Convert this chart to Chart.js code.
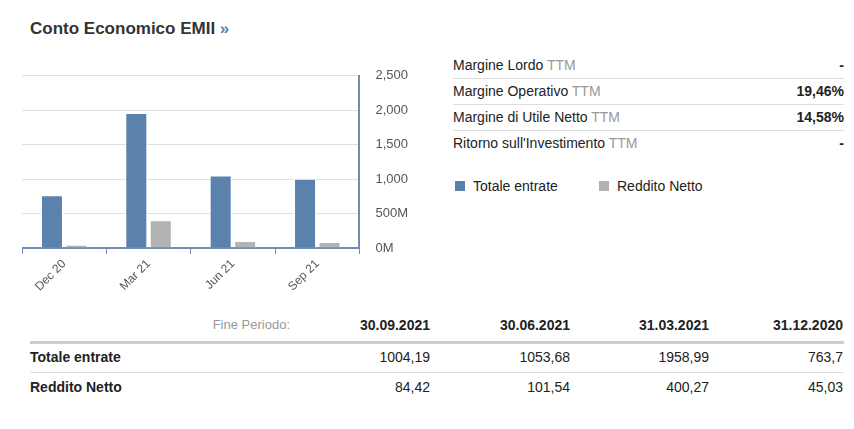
<!DOCTYPE html>
<html><head><meta charset="utf-8">
<script src="https://cdn.jsdelivr.net/npm/chart.js@4"></script>
<style>
body{margin:0;width:854px;height:429px;background:#fff;font-family:"Liberation Sans",Arial,sans-serif;color:#222;position:relative;overflow:hidden}
.title{position:absolute;left:30px;top:19px;font-size:17px;font-weight:bold;color:#333}
.title span{color:#5b82ad}
#wrap{position:absolute;left:22px;top:52px;width:402px;height:245px}
.kv{position:absolute;left:453px;width:391px;font-size:14px;height:26px;line-height:26px;border-bottom:1px solid #ddd}
.kv .t{color:#999}.kv b{position:absolute;right:0}
.leg{position:absolute;top:178px;font-size:14px}
.leg i{display:inline-block;width:10px;height:10px;margin-right:8px;vertical-align:0px}
.row{position:absolute;left:30px;width:814px;font-size:14px}
.row div{position:absolute;text-align:right;width:150px}
</style></head><body>
<div class="title">Conto Economico EMII <span>»</span></div>
<div id="wrap"><canvas id="c"></canvas></div>
<div class="kv" style="top:52px">Margine Lordo <span class="t">TTM</span><b>-</b></div>
<div class="kv" style="top:78px">Margine Operativo <span class="t">TTM</span><b>19,46%</b></div>
<div class="kv" style="top:104px">Margine di Utile Netto <span class="t">TTM</span><b>14,58%</b></div>
<div class="kv" style="top:130px;border-bottom:none">Ritorno sull'Investimento <span class="t">TTM</span><b>-</b></div>
<div class="leg" style="left:455px"><i style="background:#5b82ad"></i>Totale entrate</div>
<div class="leg" style="left:599px"><i style="background:#b3b3b3"></i>Reddito Netto</div>
<div id="tbl"></div>
<script>
const categories=["Dec 20","Mar 21","Jun 21","Sep 21"];
const revenue=[763.7,1958.99,1053.68,1004.19];
const netIncome=[45.03,400.27,101.54,84.42];
const yTicks=[0,500,1000,1500,2000,2500];
const periods=["30.09.2021","30.06.2021","31.03.2021","31.12.2020"];
const revText=["1004,19","1053,68","1958,99","763,7"];
const netText=["84,42","101,54","400,27","45,03"];

new Chart(document.getElementById('c'),{type:'bar',
data:{labels:categories,datasets:[
{data:revenue,backgroundColor:'#5b82ad',borderColor:'#fff',borderWidth:1,categoryPercentage:0.58,barPercentage:0.9},
{data:netIncome,backgroundColor:'#b3b3b3',borderColor:'#fff',borderWidth:1,categoryPercentage:0.58,barPercentage:0.9}]},
options:{responsive:true,maintainAspectRatio:false,animation:false,
layout:{padding:{left:0,top:4,right:0,bottom:0}},
plugins:{legend:{display:false},tooltip:{enabled:false}},
scales:{
x:{grid:{display:true,offset:true,drawOnChartArea:false,color:'#6e8cb5',tickLength:6},border:{color:'#6e8cb5',width:2},
ticks:{color:'#555',font:{size:12,family:'Liberation Sans'},maxRotation:45,minRotation:45}},
y:{position:'right',min:0,max:2500,afterBuildTicks:a=>{a.ticks=yTicks.map(v=>({value:v}));},
grid:{color:'#e0e0e0',drawTicks:false},border:{color:'#6e8cb5',width:2},
ticks:{padding:16,color:'#555',font:{size:13,family:'Liberation Sans'},callback:v=>v<1000?v+'M':v.toLocaleString('en-US')}}}}});

let h='';
const cols=[290,430,570,709,843];
h+=`<div class="row" style="top:317px;height:24px;border-bottom:3px solid #ccc"><div style="left:${cols[0]-30-150}px;color:#999;font-size:13px">Fine Periodo:</div>`;
periods.forEach((p,i)=>h+=`<div style="left:${cols[i+1]-30-150}px;font-weight:bold">${p}</div>`);
h+='</div>';
h+=`<div class="row" style="top:349px;height:23px;border-bottom:1px solid #ddd"><b>Totale entrate</b>`;
revText.forEach((p,i)=>h+=`<div style="top:0;left:${cols[i+1]-30-150}px">${p}</div>`);
h+='</div>';
h+=`<div class="row" style="top:379px"><b>Reddito Netto</b>`;
netText.forEach((p,i)=>h+=`<div style="top:0;left:${cols[i+1]-30-150}px">${p}</div>`);
h+='</div>';
document.getElementById('tbl').innerHTML=h;
</script></body></html>
